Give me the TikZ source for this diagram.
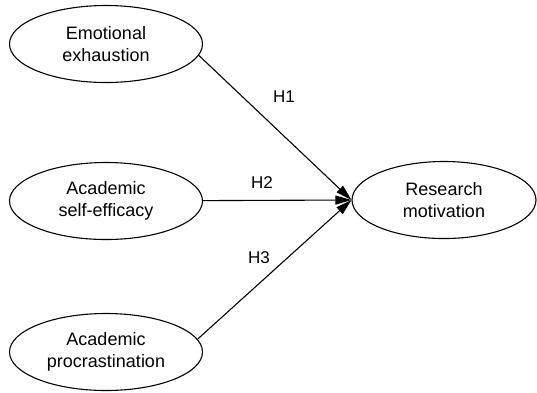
\documentclass[tikz,border=0pt]{standalone}
\usepackage{fontspec}
\setmainfont{Liberation Sans}
\usetikzlibrary{arrows.meta,shapes.geometric}
\begin{document}
\begin{tikzpicture}[x=1pt,y=-1pt,
  construct/.style={ellipse,draw,line width=1.1pt,minimum width=193pt,minimum height=77pt,
    inner sep=0pt,align=center,font=\fontsize{18}{21.5}\selectfont},
  path/.style={line width=1.1pt,-{Triangle[length=16pt,width=9pt]}},
  hyp/.style={font=\fontsize{17}{20}\selectfont}]
  \useasboundingbox (0,0) rectangle (537,392);
  \node[construct] (ee) at (106,44) {Emotional\\exhaustion};
  \node[construct] (se) at (106,201) {Academic\\self-efficacy};
  \node[construct] (ap) at (106,352) {Academic\\procrastination};
  \node[construct,minimum width=184pt] (rm) at (444,200) {Research\\motivation};
  \draw[path] (ee.-7) -- (rm.west);
  \draw[path] (se) -- (rm.west);
  \draw[path] (ap.8) -- (rm.west);
  \node[hyp] (h1) at (284,97) {H1};
  \node[hyp] (h2) at (262,183) {H2};
  \node[hyp] (h3) at (259,258) {H3};
\end{tikzpicture}
\end{document}
